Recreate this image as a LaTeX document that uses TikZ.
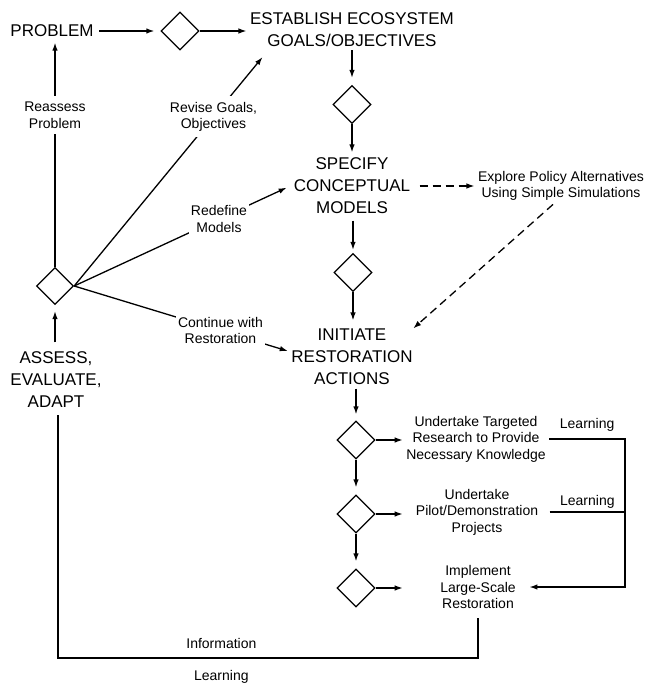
\documentclass[tikz,border=0pt]{standalone}
\usepackage{fontspec}
\setmainfont{Liberation Sans}
\usetikzlibrary{shapes.geometric,arrows.meta,calc}
\begin{document}
\begin{tikzpicture}[x=1pt,y=-1pt,
  line width=1.3pt,
  big/.style={font=\fontsize{17}{22}\selectfont, align=center, inner sep=3pt},
  small/.style={font=\fontsize{14}{16.5}\selectfont, align=center, inner sep=3pt},
  lab/.style={font=\fontsize{14}{16.5}\selectfont, align=center, fill=white, inner xsep=2pt, inner ysep=6pt},
  dia/.style={draw, diamond, minimum width=38pt, minimum height=38pt, inner sep=0pt},
  arr/.style={-{Latex[length=8pt,width=5.5pt]}},
  dsh/.style={dash pattern=on 8pt off 5pt}
]
\useasboundingbox (0,0) rectangle (647,685);

% main column
\node[big] (PROB) at (52,31) {PROBLEM};
\node[dia] (D1) at (180,31) {};
\node[big] (EST) at (352,29.5) {ESTABLISH ECOSYSTEM\\GOALS/OBJECTIVES};
\node[dia] (D2) at (352,104.5) {};
\node[big] (SPEC) at (352,186) {SPECIFY\\CONCEPTUAL\\MODELS};
\node[dia] (D3) at (353,272.5) {};
\node[big] (INIT) at (352,357) {INITIATE\\RESTORATION\\ACTIONS};
\node[dia] (D4) at (356,440) {};
\node[dia] (D5) at (356,514) {};
\node[dia] (D6) at (356,588) {};

% right column
\node[small] (R1) at (476,439) {Undertake Targeted\\Research to Provide\\Necessary Knowledge};
\node[small] (R2) at (477,512) {Undertake\\Pilot/Demonstration\\Projects};
\node[small] (R3) at (478,587) {Implement\\Large-Scale\\Restoration};
\node[small] (EXP) at (561,186) {Explore Policy Alternatives\\Using Simple Simulations};

% left column
\node[dia, minimum width=37pt, minimum height=37pt] (D7) at (55,286) {};
\node[big] (ASSESS) at (56,380) {ASSESS,\\EVALUATE,\\ADAPT};

\coordinate (RX) at (625,0);
\coordinate (BL) at (58,658);

% main flow
\draw[arr, shorten <=2pt, shorten >=6pt] (PROB.east) -- (D1.west);
\draw[arr] (D1.east) -- (D1.east -| EST.west);
\draw[arr, shorten >=7pt] (EST.south) -- (D2.north);
\draw[arr, shorten >=2pt] (D2.south) -- (SPEC.north);
\draw[arr, shorten <=3pt, shorten >=3pt] (SPEC.south -| D3.north) -- (D3.north);
\draw[arr, shorten >=5pt] (D3.south) -- (D3.south |- INIT.north);
\draw[arr, shorten >=6pt] (INIT.south -| D4.north) -- (D4.north);
\draw[arr, shorten >=7pt] (D4.south) -- (D5.north);
\draw[arr, shorten >=7pt] (D5.south) -- (D6.north);
\draw[arr] (D4.east) -- (D4.east -| R1.west);
\draw[arr] (D5.east) -- (D5.east -| R1.west);
\draw[arr] (D6.east) -- (D6.east -| R1.west);

% learning feedback
\draw[arr, shorten >=10pt] (R1.east) -- node[small, yshift=14pt]{Learning} (R1.east -| RX) |- (R3.east);
\draw[shorten <=8pt] (R2.east) -- node[small, yshift=10pt, xshift=4pt]{Learning} (R2.east -| RX);

% bottom loop
\draw[shorten <=6pt, shorten >=3pt] (R3.south) -- (R3.south |- BL)
  -- node[small, pos=0.611, yshift=15pt]{Information}
     node[small, pos=0.611, yshift=-19pt]{Learning} (BL)
  -- (BL |- ASSESS.south);

% left fan
\draw[arr, shorten <=6pt, shorten >=6pt] (ASSESS.north -| D7.south) -- (D7.south);
\draw[arr, shorten >=2pt] (D7.north) -- node[lab, pos=0.67]{Reassess\\Problem} (D7.north |- PROB.south);
\draw[arr] (D7.east) -- node[lab, pos=0.74]{Revise Goals,\\Objectives} ($(EST.south west)+(16,7)$);
\draw[arr, shorten >=4pt] (D7.east) -- node[lab, pos=0.67]{Redefine\\Models} (SPEC.west);
\draw[arr] (D7.east) -- node[lab, pos=0.685]{Continue with\\Restoration} ($(INIT.west)+(0,-6)$);

% dashed
\draw[arr, dsh, shorten <=6pt] (SPEC.east) -- (SPEC.east -| EXP.west);
\draw[arr, dsh] ([xshift=-8pt]EXP.south) -- ([xshift=-3pt,yshift=-3pt]INIT.north east);
\end{tikzpicture}
\end{document}
